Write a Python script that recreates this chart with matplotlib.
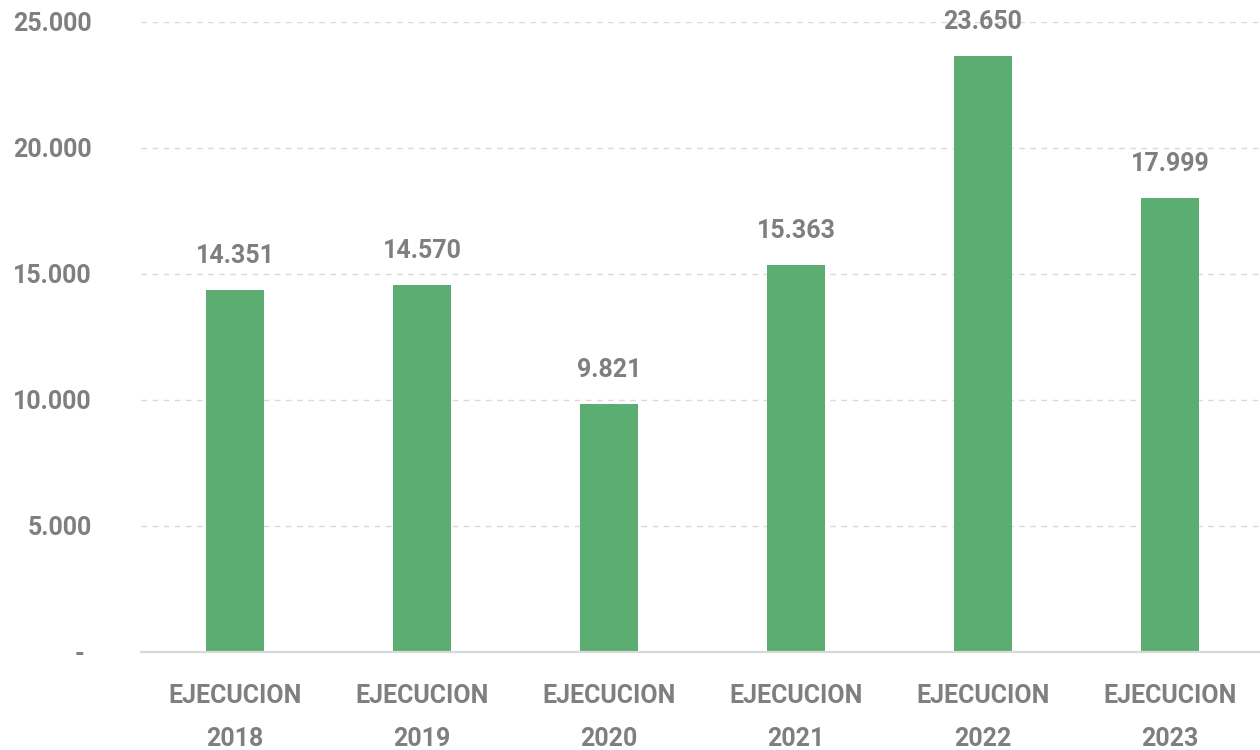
import matplotlib.pyplot as plt
from matplotlib.ticker import FuncFormatter

plt.rcParams['font.family'] = ['Roboto', 'DejaVu Sans']

# Data
categories = ['EJECUCION\n2018', 'EJECUCION\n2019', 'EJECUCION\n2020',
              'EJECUCION\n2021', 'EJECUCION\n2022', 'EJECUCION\n2023']
values = [14351, 14570, 9821, 15363, 23650, 17999]
yticks = [0, 5000, 10000, 15000, 20000, 25000]

text_color = '#7f7f7f'
bar_color = '#5cad72'
grid_color = '#d9d9d9'
weight = 'semibold'


def miles(v):
    # thousands with dot separator, zero shown as a dash
    if v == 0:
        return '- '
    return f'{int(v):,}'.replace(',', '.')


fig = plt.figure(figsize=(12.6, 7.5), dpi=100)
ax = fig.add_axes([0.1123, 0.1307, 0.8905, 0.84])

x = range(len(categories))
bars = ax.bar(x, values, width=0.315, color=bar_color, zorder=3)

for xi, v in zip(x, values):
    ax.annotate(miles(v), (xi, v), xytext=(0, 16), textcoords='offset points',
                ha='center', va='bottom', fontsize=18, fontweight=weight,
                color=text_color)

ax.set_xlim(-0.5, 5.5)
ax.set_ylim(0, 25000)
ax.set_yticks(yticks)
ax.yaxis.set_major_formatter(FuncFormatter(lambda v, p: miles(v)))
ax.set_xticks(list(x))
ax.set_xticklabels(categories, linespacing=2.0)

ax.tick_params(axis='y', length=0, pad=36, labelsize=18, labelcolor=text_color)
ax.tick_params(axis='x', length=0, pad=23, labelsize=18, labelcolor=text_color)
for lbl in ax.get_xticklabels() + ax.get_yticklabels():
    lbl.set_fontweight(weight)

ax.yaxis.grid(True, color=grid_color, linestyle=(0, (4, 4)), linewidth=1, zorder=0)
for s in ['top', 'right', 'left']:
    ax.spines[s].set_visible(False)
ax.spines['bottom'].set_color(grid_color)
ax.spines['bottom'].set_linewidth(1.6)
ax.spines['bottom'].set_zorder(4)

fig.savefig('out.png', dpi=100)
